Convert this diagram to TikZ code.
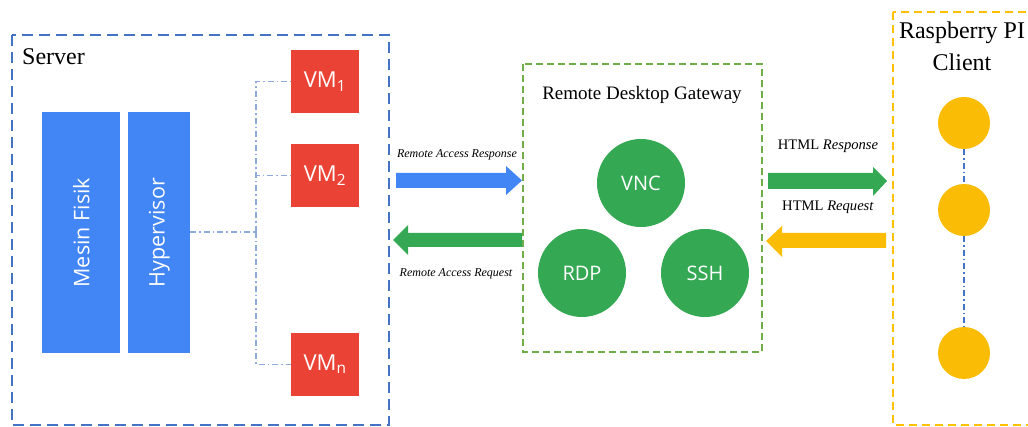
\documentclass[tikz,border=0pt]{standalone}
\usepackage{fontspec}
\setmainfont{Liberation Serif}
\newfontfamily\sansf{Open Sans}
\definecolor{gblue}{HTML}{4285F4}
\definecolor{gred}{HTML}{EA4335}
\definecolor{ggreen}{HTML}{34A853}
\definecolor{gyellow}{HTML}{FBBC05}
\definecolor{srvline}{HTML}{4472C4}
\definecolor{gwline}{HTML}{70AD47}
\definecolor{piline}{HTML}{FFC000}
\definecolor{linkline}{HTML}{8FAADC}
\begin{document}
\begin{tikzpicture}[x=1pt,y=-1pt,
  sblock/.style={fill=gblue,draw=none,anchor=north west,inner sep=0pt},
  vmbox/.style={fill=gred,draw=none,minimum width=68pt,minimum height=63pt,inner sep=0pt,text=white,font=\sansf\fontsize{22}{24}\selectfont},
  svc/.style={circle,fill=ggreen,draw=none,minimum size=88pt,inner sep=0pt,text=white,font=\sansf\fontsize{20}{24}\selectfont},
  pinode/.style={circle,fill=gyellow,draw=none,minimum size=52pt,inner sep=0pt},
  link/.style={linkline,line width=1.1pt,dash pattern=on 6pt off 3pt on 1.5pt off 3pt},
  lbl/.style={font=\fontsize{12}{14}\selectfont,inner sep=0pt},
  hlbl/.style={font=\fontsize{14.6}{16}\selectfont,inner sep=0pt}
]
\useasboundingbox (0,0) rectangle (1028,427);
\begin{scope}
\clip (0,0) rectangle (1028,427);
% containers
\draw[srvline,line width=2pt,dash pattern=on 11pt off 6pt] (12,35) rectangle (389,425);
\draw[gwline,line width=2pt,dash pattern=on 7pt off 4pt] (523,64) rectangle (762,352);
\draw[piline,line width=2pt,dash pattern=on 8pt off 5pt] (893,12) rectangle (1060,425);
\end{scope}
\node[anchor=base west,inner sep=0pt,font=\fontsize{24}{28}\selectfont] (srvlbl) at (22,65) {Server};
\node[font=\fontsize{19}{22}\selectfont,inner sep=0pt] (gwlbl) at (642,95) {Remote Desktop Gateway};
\node[font=\fontsize{24}{32}\selectfont,align=center,inner sep=0pt] (pilbl) at (962,46) {Raspberry PI\\Client};

% server blocks
\node[sblock,minimum width=78pt,minimum height=241pt] (mf) at (42,112) {};
\node[rotate=90,text=white,font=\sansf\fontsize{21.5}{24}\selectfont] at (mf.center) {Mesin Fisik};
\node[sblock,minimum width=62pt,minimum height=241pt] (hv) at (128,112) {};
\node[rotate=90,text=white,font=\sansf\fontsize{21.5}{24}\selectfont] at (hv.center) {Hypervisor};

\node[vmbox] (vm1) at (325,81.5) {VM\textsubscript{1}};
\node[vmbox] (vm2) at (325,175.5) {VM\textsubscript{2}};
\node[vmbox] (vmn) at (325,364.5) {VM\textsubscript{n}};

\coordinate (bus) at (256,232);
\draw[link] (hv.east |- bus) -- (bus);
\draw[link] (bus) |- (vm1.west);
\draw[link] (bus) |- (vm2.west);
\draw[link] (bus) |- (vmn.west);

% gateway services
\node[svc] (vnc) at (641,183) {VNC};
\node[svc] (rdp) at (582,273) {RDP};
\node[svc] (ssh) at (705,273) {SSH};

% pi clients
\node[pinode] (p1) at (964,123) {};
\node[pinode] (p2) at (964,210) {};
\node[pinode] (p3) at (964,353) {};
\draw[srvline,line width=1.1pt,dash pattern=on 6pt off 3pt on 1.5pt off 3pt] (p1) -- (p2);
\draw[srvline,line width=1.1pt,dash pattern=on 6pt off 3pt on 1.5pt off 3pt] (p2) -- (p3);

% block arrows
\fill[gblue] (396,173) -- (506,173) -- (506,166) -- (522,180.5) -- (506,195) -- (506,188) -- (396,188) -- cycle;
\node[lbl] (rar) at (457,155) {\itshape Remote Access Response};
\fill[ggreen] (522,233) -- (408,233) -- (408,225) -- (393,240) -- (408,255) -- (408,247) -- (522,247) -- cycle;
\node[lbl] (raq) at (456,274) {\itshape Remote Access Request};
\fill[ggreen] (768,173) -- (873,173) -- (873,167) -- (887,181) -- (873,196) -- (873,189) -- (768,189) -- cycle;
\node[hlbl] (hrs) at (828,146) {HTML \textit{Response}};
\fill[gyellow] (886,233) -- (782,233) -- (782,226) -- (766,241) -- (782,257) -- (782,248) -- (886,248) -- cycle;
\node[hlbl] (hrq) at (828,207) {HTML \textit{Request}};
\end{tikzpicture}
\end{document}
